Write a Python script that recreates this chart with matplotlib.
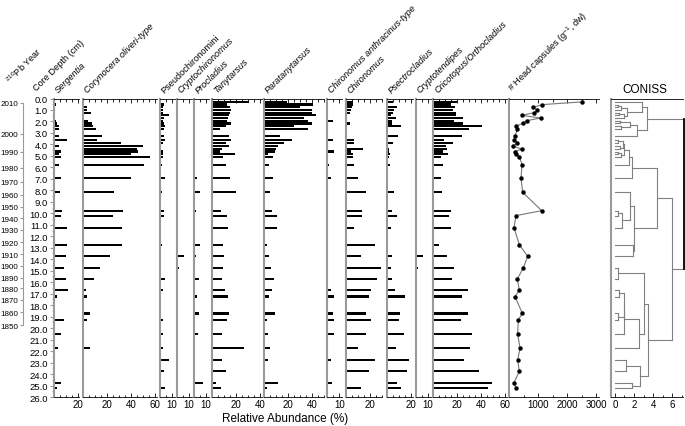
import matplotlib.pyplot as plt
from matplotlib.ticker import FixedLocator, MultipleLocator

plt.rcParams['font.family'] = ['Liberation Sans', 'DejaVu Sans']
plt.rcParams['mathtext.default'] = 'regular'

# sample depths (cm)
depth = [0.3, 0.53, 0.77, 1.0, 1.23, 1.47, 1.7, 1.93, 2.17, 2.4, 2.63,
         3.25, 3.58, 3.88, 4.15, 4.4, 4.62, 4.85, 5.08,
         5.77, 6.93, 8.17,
         9.77, 10.2, 11.25, 12.73, 13.75, 14.75, 15.73, 16.7, 17.25, 18.72,
         19.27, 20.5, 21.75, 22.77, 23.77, 24.75, 25.25]

# relative abundances (%)
sergentia = [0, 2, 0, 0, 0, 0, 0, 2, 2.5, 4, 4.5,
             4.5, 11, 0, 4.5, 0, 6, 4.5, 5.5,
             4, 5.5, 5,
             7, 5.5, 11, 11, 9.7, 8.3, 10, 11.7, 2.5, 0, 8.3, 6, 3, 0, 0, 6, 2.5]
corynocera = [0, 0, 3, 3.6, 6.4, 0, 0, 4.4, 7.8, 8.6, 10.8,
              15.5, 11.4, 31.4, 50, 45, 46, 39.7, 55.8,
              50.8, 40, 25.8,
              33.6, 25.3, 32.2, 32.8, 22.5, 14.2, 9.2, 2.5, 3, 5.8, 3, 0, 5.8, 0, 0, 0, 0]
pseudochiro = [0, 3.3, 2.8, 2.2, 2.8, 7.8, 3.3, 2.8, 3.3, 4.4, 3.3,
               3.3, 3.9, 2.8, 0, 0, 2.8, 2.2, 2.5,
               1.7, 4.4, 1.7,
               3.3, 3.3, 0, 1.7, 0, 1.1, 4.4, 2.2, 1.1, 0, 2.2, 2.2, 2.2, 7.8, 3.3, 0, 4.4]
cryptochiro = [0, 0, 0, 0, 0, 0, 0, 0, 0, 0, 0,
               0, 0, 0, 0, 0, 0, 0, 0,
               0, 0, 0,
               0, 0, 0, 0, 6.1, 1.7, 0, 0, 0, 0, 0, 0, 0, 0, 0, 0, 0]
procladius = [0, 0, 0, 0, 0, 0, 0, 0, 0, 0, 0,
              0, 0, 0, 0, 0, 0, 0, 0,
              0, 2.2, 5,
              1.7, 0, 0, 5, 1.7, 0, 4.4, 0, 2.2, 4.4, 0, 3.3, 0, 0, 0, 7.8, 0]
tanytarsus = [31, 13, 15.5, 15.8, 15, 14.7, 14, 12.5, 15.8, 12, 7,
              14.7, 15.8, 11.9, 14.2, 8.3, 6.9, 19.4, 9.7,
              11.9, 15.3, 20,
              8, 12.5, 13.3, 9.2, 10.3, 9.7, 8.3, 11.1, 13.9, 14.7, 13, 8.3, 27.2, 8.6, 11.9, 3.3, 7.8]
paratany = [19, 41, 30, 40, 40, 43.7, 33.7, 37, 39.7, 25, 37,
            13.3, 23, 16.7, 12, 10, 9, 3, 7.8,
            4.4, 7.8, 5,
            6.4, 10.6, 11.1, 2.8, 4.4, 6.1, 8.3, 6.7, 4.4, 9.4, 2.8, 3.3, 5, 3.3, 0, 11.4, 2.8]
chir_anthr = [0, 0, 0, 0, 0, 0, 0, 4.4, 0, 0, 0,
              0, 4.4, 0, 0, 0, 5.6, 0, 0,
              1.7, 2.8, 0,
              0, 0, 0, 0, 0, 0, 0, 2.8, 5.6, 4.4, 5.6, 5.6, 0, 3.3, 0, 3.9, 0]
chironomus = [5.8, 5.8, 5, 4.2, 3.6, 0, 0, 0, 3.6, 0, 0,
              1.4, 6.9, 6.9, 0, 14.2, 4.2, 6.4, 6.4,
              6.9, 10, 16.7,
              13.9, 13.9, 6.7, 24.4, 12.8, 29.2, 26.4, 21.1, 19.7, 16.9, 20.8, 16.7, 10.6, 24.4, 19.4, 0, 13]
psectro = [5, 1.4, 9, 6, 5, 3.5, 7.8, 4.2, 4.2, 12, 0,
           9.2, 0, 5.6, 0, 2.2, 1.7, 2.8, 2.2,
           2.8, 0, 6.1,
           4.4, 8.9, 3.9, 0, 4.7, 3.9, 4.7, 6.7, 15.6, 10.8, 10.3, 14.4, 7.5, 18.3, 16.7, 8.9, 11.7]
cryptotend = [0, 0, 0, 0, 0, 0, 0, 0, 0, 0, 0,
              0, 0, 0, 0, 0, 0, 0, 0,
              0, 0, 0,
              0, 0, 0, 0, 5.8, 1.7, 0, 0, 0, 0, 0, 0, 0, 0, 0, 0, 0]
cricotopus = [20, 14.4, 18, 16.7, 18.9, 18.9, 24.4, 17.2, 25, 40.8, 30,
              23.9, 9.2, 16.7, 10.6, 11.7, 8.3, 12.5, 6.4,
              7.8, 6.1, 6.9,
              14.4, 13.3, 14.4, 4.4, 11.7, 17.2, 15.3, 29.2, 23.9, 28.6, 23, 32.5, 30.6, 25.6, 38, 49.2, 45.8]

# head capsules per g dw
head_caps = [2500, 1150, 840, 980, 870, 440, 1090, 610, 470, 240, 290,
             210, 170, 290, 130, 440, 200, 240, 360,
             450, 414, 471,
             1127, 241, 172, 356, 644, 494, 287, 356, 207, 460, 322, 299, 379, 299, 356, 172, 241]

# 210Pb dates and their depth
pb_years = [2010, 2000, 1990, 1980, 1970, 1960, 1950, 1940, 1930, 1920,
            1910, 1900, 1890, 1880, 1870, 1860, 1850]
pb_depth = [0.39, 3.07, 4.63, 6.03, 7.24, 8.38, 9.45, 10.44, 11.45, 12.5,
            13.55, 14.56, 15.6, 16.53, 17.55, 18.62, 19.73]

# CONISS merges: (node a, node b, total sum of squares); new nodes numbered from 39
coniss = [(1, 2, 0.3), (39, 3, 0.6), (4, 5, 0.4), (41, 6, 0.9), (40, 42, 1.3),
          (0, 43, 2.8), (7, 8, 0.5), (9, 10, 0.6), (45, 46, 1.6), (47, 11, 2.3),
          (44, 48, 3.4), (12, 13, 0.3), (14, 15, 0.5), (50, 51, 0.8), (16, 17, 0.3),
          (53, 18, 0.6), (52, 54, 1.0), (55, 19, 1.5), (56, 20, 1.75), (22, 23, 0.35),
          (58, 24, 0.7), (21, 59, 1.6), (25, 26, 1.9), (60, 61, 2.0), (57, 62, 4.4),
          (27, 28, 0.35), (29, 30, 0.4), (31, 32, 0.3), (65, 66, 0.9), (67, 33, 1.0),
          (68, 34, 2.5), (64, 69, 3.0), (35, 36, 1.15), (37, 38, 1.75), (71, 72, 2.6),
          (70, 73, 3.5), (63, 74, 6.0), (49, 75, 7.3)]

W, H = 685, 427
TOP, BOT = 99.5, 398.0
SPINE = '#9a9a9a'

fig = plt.figure(figsize=(W / 100, H / 100), dpi=100)


def px_axes(x0, x1):
    return fig.add_axes([x0 / W, 1 - BOT / H, (x1 - x0) / W, (BOT - TOP) / H])


def style(ax, majors, minor):
    ax.set_ylim(26, 0)
    ax.spines['right'].set_visible(False)
    ax.spines['left'].set_color(SPINE)
    ax.spines['left'].set_linewidth(1.5)
    for s in ('top', 'bottom'):
        ax.spines[s].set_linewidth(0.6)
    ax.xaxis.set_major_locator(FixedLocator(majors))
    ax.xaxis.set_minor_locator(MultipleLocator(minor))
    ax.tick_params(axis='x', which='both', direction='in', top=True,
                   labelsize=7, pad=1.5, width=0.6)
    ax.tick_params(axis='x', which='major', length=3)
    ax.tick_params(axis='x', which='minor', length=1.8)
    ax.set_yticks([])


def header(x, text, italic=True, y=95):
    fig.text(x / W, 1 - y / H, text, rotation=45, rotation_mode='anchor',
             ha='left', va='bottom', fontsize=6.6,
             style='italic' if italic else 'normal')


panels = [
    (sergentia, 'Sergentia', 54, 21, [20]),
    (corynocera, 'Corynocera oliveri-type', 83, 62, [20, 40, 60]),
    (pseudochiro, 'Pseudochironomini', 160, 12.5, [10]),
    (cryptochiro, 'Cryptochironomus', 176.7, 12.5, [10]),
    (procladius, 'Procladius', 194, 12.5, [10]),
    (tanytarsus, 'Tanytarsus', 211.7, 42, [20, 40]),
    (paratany, 'Paratanytarsus', 264, 50, [20, 40]),
    (chir_anthr, 'Chironomus anthracinus-type', 327.3, 12, [10]),
    (chironomus, 'Chironomus', 345.7, 30, [20]),
    (psectro, 'Psectrocladius', 386.7, 21.5, [20]),
    (cryptotend, 'Cryptotendipes', 415.7, 12.5, [10]),
    (cricotopus, 'Cricotopus/Orthocladius', 433.3, 61, [20, 40, 60]),
]

for i, (vals, name, left, xmax, majors) in enumerate(panels):
    ax = px_axes(left, left + xmax * 1.2)
    ax.barh(depth, vals, height=0.19, color='black', linewidth=0)
    ax.set_xlim(0, xmax)
    style(ax, majors, 5)
    header(left + 6, name, italic=(name != 'Pseudochironomini'))
    if i == 0:
        ax.yaxis.set_major_locator(MultipleLocator(1))
        ax.yaxis.set_minor_locator(MultipleLocator(0.5))
        ax.yaxis.set_major_formatter(lambda v, p: f'{v:.1f}')
        ax.tick_params(axis='y', which='both', direction='out', labelsize=6.8,
                       color=SPINE, pad=1.5)
        ax.tick_params(axis='y', which='major', length=3)
        ax.tick_params(axis='y', which='minor', length=1.5)

# head capsules
ax = px_axes(509, 509 + 3100 * 0.029)
ax.plot(head_caps, depth, color='#777777', lw=0.8, marker='o', ms=2.2,
        mfc='black', mec='black')
ax.set_xlim(0, 3100)
style(ax, [1000, 2000, 3000], 500)
header(515, '# Head capsules (g$^{-1}$, dw)', italic=False)

# CONISS dendrogram
ax = px_axes(610.7, 682.5)
ax.set_xlim(-0.45, 7.1)
style(ax, [0, 2, 4, 6], 1)
ax.tick_params(axis='x', which='both', top=False)
pos = list(depth)
hgt = [0.0] * len(depth)
for k, (a, b, h) in enumerate(coniss):
    last = k == len(coniss) - 1
    for c in (a, b):
        ax.plot([hgt[c], h], [pos[c], pos[c]], color='#808080', lw=0.8,
                clip_on=False)
    ax.plot([h, h], [pos[a], pos[b]], color='black' if last else '#808080',
            lw=1.3 if last else 0.8, clip_on=False)
    pos.append((pos[a] + pos[b]) / 2)
    hgt.append(h)
fig.text(645 / W, 1 - 90 / H, 'CONISS', ha='center', va='center', fontsize=8.5)

# 210Pb year axis
ax = px_axes(23, 24)
ax.set_ylim(26, 0)
ax.set_xlim(0, 1)
for s in ('top', 'right', 'bottom'):
    ax.spines[s].set_visible(False)
ax.spines['left'].set_color(SPINE)
ax.spines['left'].set_bounds(pb_depth[0], pb_depth[-1])
ax.set_xticks([])
ax.set_yticks(pb_depth)
ax.set_yticklabels([str(y) for y in pb_years])
ax.tick_params(axis='y', direction='out', length=2.5, labelsize=5.8, color=SPINE, pad=1)
ax.patch.set_visible(False)

header(12, '$^{210}$Pb Year', italic=False, y=86)
header(38, 'Core Depth (cm)', italic=False, y=93)
fig.text(285 / W, 1 - 419 / H, 'Relative Abundance (%)', ha='center', va='center',
         fontsize=8.5)

fig.savefig('out.png', dpi=100)
